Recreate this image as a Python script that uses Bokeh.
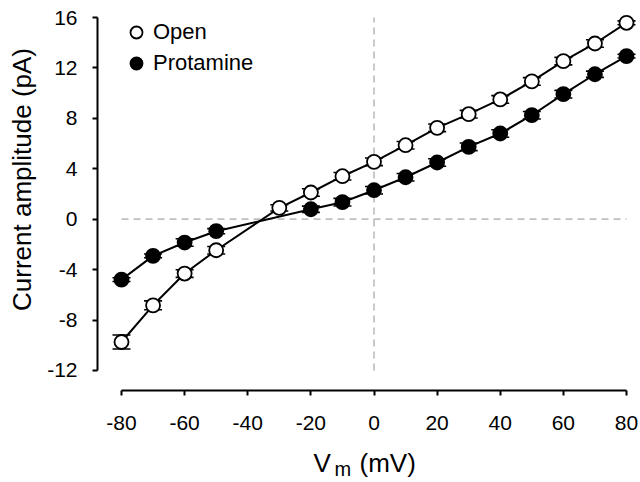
from bokeh.plotting import figure
from bokeh.models import (ColumnDataSource, FixedTicker, Whisker, TeeHead, Legend,
                          LegendItem, Range1d)
from bokeh.layouts import row, column
from bokeh.core.properties import value
from bokeh.embed import file_html
from bokeh.resources import INLINE
import math

# ---- data ----
open_v = [-80, -70, -60, -50, -30, -20, -10, 0, 10, 20, 30, 40, 50, 60, 70, 80]
open_i = [-9.74, -6.83, -4.31, -2.46, 0.90, 2.12, 3.41, 4.55, 5.87, 7.25, 8.33, 9.50, 10.93, 12.54, 13.94, 15.58]
open_err = [0.55, 0.35, 0.30, 0.30, 0.25, 0.30, 0.30, 0.30, 0.30, 0.30, 0.30, 0.30, 0.30, 0.30, 0.30, 0.15]

prot_v = [-80, -70, -60, -50, -20, -10, 0, 10, 20, 30, 40, 50, 60, 70, 80]
prot_i = [-4.79, -2.91, -1.85, -0.95, 0.79, 1.35, 2.30, 3.33, 4.50, 5.74, 6.80, 8.25, 9.92, 11.50, 12.94]
prot_err = [0.15, 0.15, 0.30, 0.20, 0.25, 0.30, 0.30, 0.30, 0.30, 0.30, 0.30, 0.30, 0.30, 0.25, 0.15]

x_ticks = [-80, -60, -40, -20, 0, 20, 40, 60, 80]
y_ticks = [-12, -8, -4, 0, 4, 8, 12, 16]
x_tick_labels = {t: str(t) for t in x_ticks}
y_tick_labels = {t: str(t) for t in y_ticks}

y_title = "Current amplitude (pA)"
x_title_parts = ["V", "m", "(mV)"]

# ---- layout constants (page pixels) ----
PAGE_W, PAGE_H = 640, 482
LEFT_W = 40                  # strip holding the y title
MAIN_H = 448                 # main plot height
FRAME_L, FRAME_R, FRAME_T, FRAME_B = 97, 640, 0, 390
X0, X1 = -87.605, 84.436
Y0, Y1 = -13.587, 17.349
FONT = "Liberation Sans"

def dx(px):  # page px -> data x of the main plot
    return X0 + (px - FRAME_L) * (X1 - X0) / (FRAME_R - FRAME_L)

# ---- main plot ----
p = figure(width=PAGE_W - LEFT_W, height=MAIN_H, output_backend="svg",
           toolbar_location=None, x_range=Range1d(X0, X1), y_range=Range1d(Y0, Y1),
           min_border_left=FRAME_L - LEFT_W, min_border_right=0,
           min_border_top=FRAME_T, min_border_bottom=MAIN_H - FRAME_B)
p.outline_line_color = None
p.grid.visible = False

# dashed zero lines
p.line([x_ticks[0], x_ticks[-1]], [0, 0], line_color="#c0c0c0", line_width=1.7,
       line_dash="7 5")
p.line([0, 0], [y_ticks[0], y_ticks[-1]], line_color="#c0c0c0", line_width=1.7,
       line_dash="7 5")

src_o = ColumnDataSource(dict(x=open_v, y=open_i,
                              lo=[a - e for a, e in zip(open_i, open_err)],
                              hi=[a + e for a, e in zip(open_i, open_err)]))
src_p = ColumnDataSource(dict(x=prot_v, y=prot_i,
                              lo=[a - e for a, e in zip(prot_i, prot_err)],
                              hi=[a + e for a, e in zip(prot_i, prot_err)]))

p.line("x", "y", source=src_o, line_color="black", line_width=2)
p.line("x", "y", source=src_p, line_color="black", line_width=2)

for src in (src_o, src_p):
    w = Whisker(base="x", lower="lo", upper="hi", source=src, dimension="height",
                line_color="black", line_width=1.6, level="underlay",
                upper_head=TeeHead(size=18, line_color="black", line_width=1.6),
                lower_head=TeeHead(size=18, line_color="black", line_width=1.6))
    p.add_layout(w)

r_o = p.scatter("x", "y", source=src_o, size=14, fill_color="white",
                line_color="black", line_width=1.8)
r_p = p.scatter("x", "y", source=src_p, size=14, fill_color="black",
                line_color="black", line_width=1.8)

legend = Legend(items=[LegendItem(label="Open", renderers=[r_o]),
                       LegendItem(label="Protamine", renderers=[r_p])],
                location=(24, 312), glyph_height=30, glyph_width=30, spacing=1,
                padding=10, label_standoff=2, border_line_color=None,
                background_fill_alpha=0, label_text_font=FONT,
                label_text_font_size="22px", label_text_color="black")
p.add_layout(legend)

for ax, ticks, labs in ((p.xaxis[0], x_ticks, x_tick_labels),
                        (p.yaxis[0], y_ticks, y_tick_labels)):
    ax.ticker = FixedTicker(ticks=ticks)
    ax.major_label_overrides = labs
    ax.bounds = (ticks[0], ticks[-1])
    ax.minor_tick_line_color = None
    ax.major_tick_in = 0
    ax.major_tick_out = 5
    ax.major_tick_line_width = 2
    ax.axis_line_width = 2
    ax.axis_line_color = "black"
    ax.major_tick_line_color = "black"
    ax.major_label_text_font = FONT
    ax.major_label_text_font_size = "21px"
    ax.major_label_text_color = "black"
p.xaxis[0].major_label_standoff = 20
p.yaxis[0].major_label_standoff = 15

# ---- strip with the y title (pixel coordinates, y measured upward) ----
fy = figure(width=LEFT_W, height=PAGE_H, output_backend="svg", toolbar_location=None,
            x_range=Range1d(0, LEFT_W), y_range=Range1d(0, PAGE_H),
            x_axis_location=None, y_axis_location=None, min_border=0)
fy.outline_line_color = None
fy.grid.visible = False
fy.text(x=[21.5], y=[PAGE_H - 179], text=[y_title], angle=math.pi / 2,
        text_align="center", text_baseline="middle", text_font=value(FONT),
        text_font_size=value("26px"), text_color="black")

# ---- strip with the x title (shares the main x scale) ----
XH = PAGE_H - MAIN_H
fx = figure(width=PAGE_W - LEFT_W, height=XH, output_backend="svg", toolbar_location=None,
            x_range=p.x_range, y_range=Range1d(0, XH),
            x_axis_location=None, y_axis_location=None,
            min_border_left=FRAME_L - LEFT_W, min_border_right=0,
            min_border_top=0, min_border_bottom=0)
fx.outline_line_color = None
fx.grid.visible = False
fx.text(x=[dx(313), dx(359)], y=[20, 20],
        text=[x_title_parts[0], x_title_parts[2]], text_align="left",
        text_baseline="alphabetic", text_font=value(FONT),
        text_font_size=value("26px"), text_color="black")
fx.text(x=[dx(334)], y=[14], text=[x_title_parts[1]], text_align="left",
        text_baseline="alphabetic", text_font=value(FONT),
        text_font_size=value("20px"), text_color="black")

layout = row(fy, column(p, fx, spacing=0), spacing=0)
open("out.html", "w").write(file_html(layout, INLINE))
